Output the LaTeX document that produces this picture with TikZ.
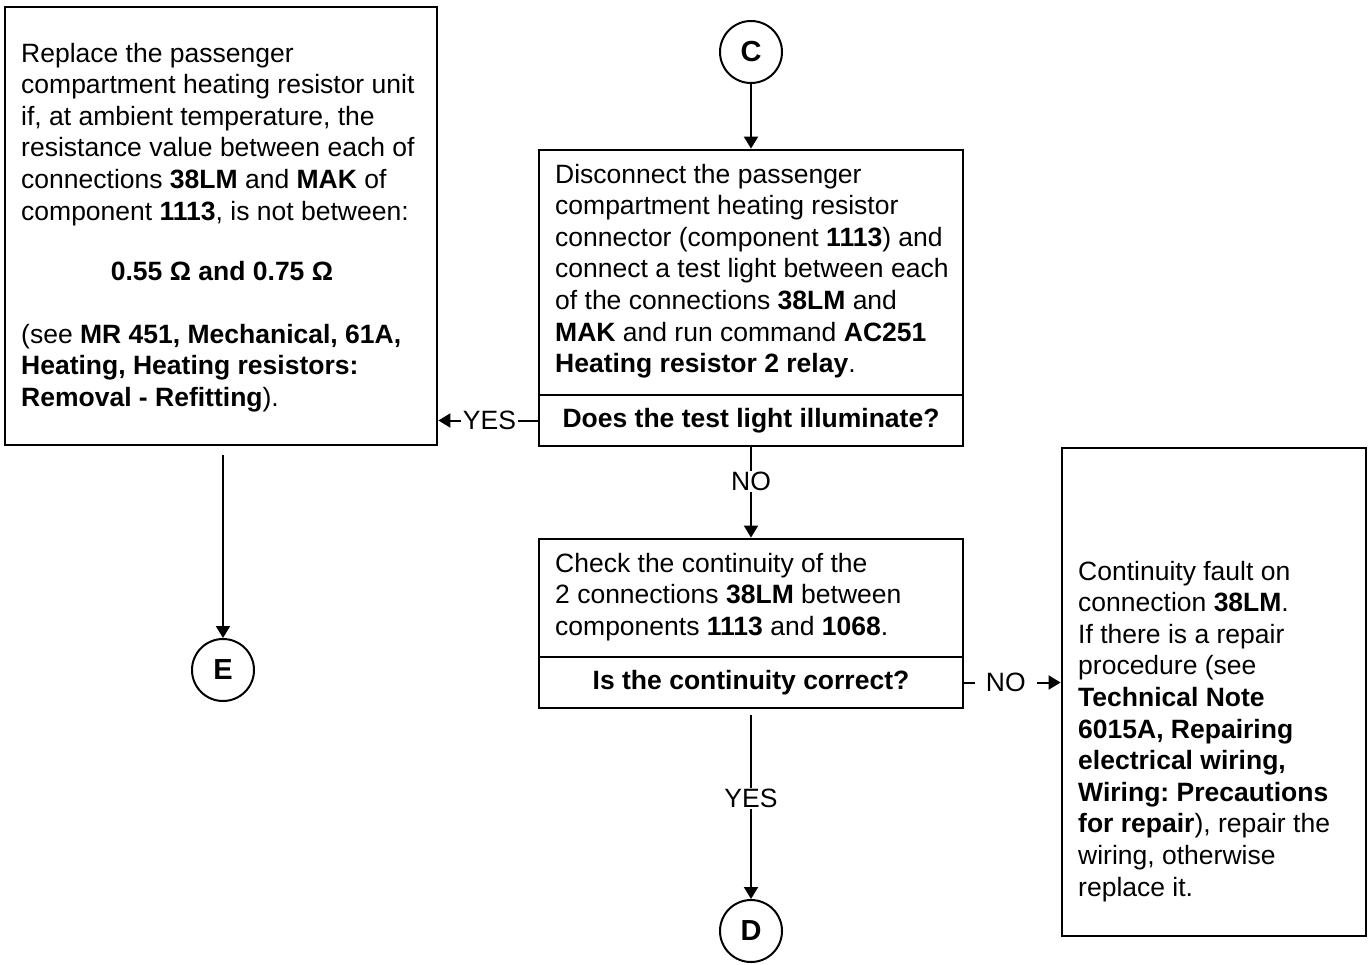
\documentclass[tikz,border=0pt]{standalone}
\usepackage{fontspec}
\setmainfont{Liberation Sans}
\usetikzlibrary{arrows.meta}
\frenchspacing
\tikzset{
  boxnode/.style={draw, line width=2.8pt, inner sep=0pt, rectangle},
  qnode/.style={boxnode, font=\bfseries\fontsize{26.5}{31.6}\selectfont},
  txt/.style={anchor=base west, inner sep=0pt, font=\fontsize{26.5}{31.6}\selectfont},
  circnode/.style={draw, circle, line width=2pt, minimum size=62pt, inner sep=0pt, font=\bfseries\fontsize{29}{31.6}\selectfont},
  conn/.style={line width=2pt, -{Triangle[length=12pt,width=14pt]}},
  lbl/.style={fill=white, inner sep=2pt, font=\fontsize{26.5}{31.6}\selectfont}
}
\begin{document}
\begin{tikzpicture}[x=1pt,y=-1pt]
\useasboundingbox (0,0) rectangle (1371,964);
% boxes
\node[boxnode, minimum width=432pt, minimum height=438pt] (L) at (221,226) {};
\node[boxnode, minimum width=424pt, minimum height=245pt] (p1) at (751,272.5) {};
\node[qnode, minimum width=424pt, minimum height=51pt] (q1) at (751,420.5) {Does the test light illuminate?};
\node[boxnode, minimum width=424pt, minimum height=118pt] (p2) at (751,598) {};
\node[qnode, minimum width=424pt, minimum height=51pt] (q2) at (751,682.5) {Is the continuity correct?};
\node[boxnode, minimum width=304pt, minimum height=488pt] (R) at (1214,692) {};
% circles
\node[circnode] (C) at (751,52) {C};
\node[circnode] (E) at (223,670) {E};
\node[circnode] (D) at (751,931) {D};
% texts
\node[txt] (tL1) at (21,62) {\parbox[t]{420pt}{\raggedright
Replace the passenger\\
compartment heating resistor unit\\
if, at ambient temperature, the\\
resistance value between each of\\
connections \textbf{38LM} and \textbf{MAK} of\\
component \textbf{1113}, is not between:}};
\node[txt, anchor=base] (tL2) at (222,280) {\textbf{0.55 Ω and 0.75 Ω}};
\node[txt] (tL3) at (21,343) {\parbox[t]{420pt}{\raggedright
(see \textbf{MR 451, Mechanical, 61A,}\\
\textbf{Heating, Heating resistors:}\\
\textbf{Removal - Refitting}).}};
\node[txt] (tP1) at (555,183) {\parbox[t]{410pt}{\raggedright
Disconnect the passenger\\
compartment heating resistor\\
connector (component \textbf{1113}) and\\
connect a test light between each\\
of the connections \textbf{38LM} and\\
\textbf{MAK} and run command \textbf{AC251}\\
\textbf{Heating resistor 2 relay}.}};
\node[txt] (tP2) at (555,572) {\parbox[t]{410pt}{\raggedright
Check the continuity of the\\
2 connections \textbf{38LM} between\\
components \textbf{1113} and \textbf{1068}.}};
\node[txt] (tR) at (1078,580) {\parbox[t]{285pt}{\raggedright
Continuity fault on\\
connection \textbf{38LM}.\\
If there is a repair\\
procedure (see\\
\textbf{Technical Note}\\
\textbf{6015A, Repairing}\\
\textbf{electrical wiring,}\\
\textbf{Wiring: Precautions}\\
\textbf{for repair}), repair the\\
wiring, otherwise\\
replace it.}};
% connectors
\draw[conn] (C) -- (p1.north);
\draw[conn] (q1.west) -- node[lbl, pos=0.485] (yes1) {YES} (q1.west -| L.east);
\draw[conn] (q1.south) -- node[lbl, pos=0.376, inner sep=1pt] (no1) {NO} (p2.north);
\draw[conn, shorten <=6pt] (q2.south) -- node[lbl, pos=0.47, inner sep=1pt] (yes2) {YES} (D.north);
\draw[conn] (q2.east) -- node[lbl, pos=0.43, inner xsep=11pt] (no2) {NO} (q2.east -| R.west);
\draw[conn, shorten <=9pt] (E |- L.south) -- (E.north);
\end{tikzpicture}
\end{document}
